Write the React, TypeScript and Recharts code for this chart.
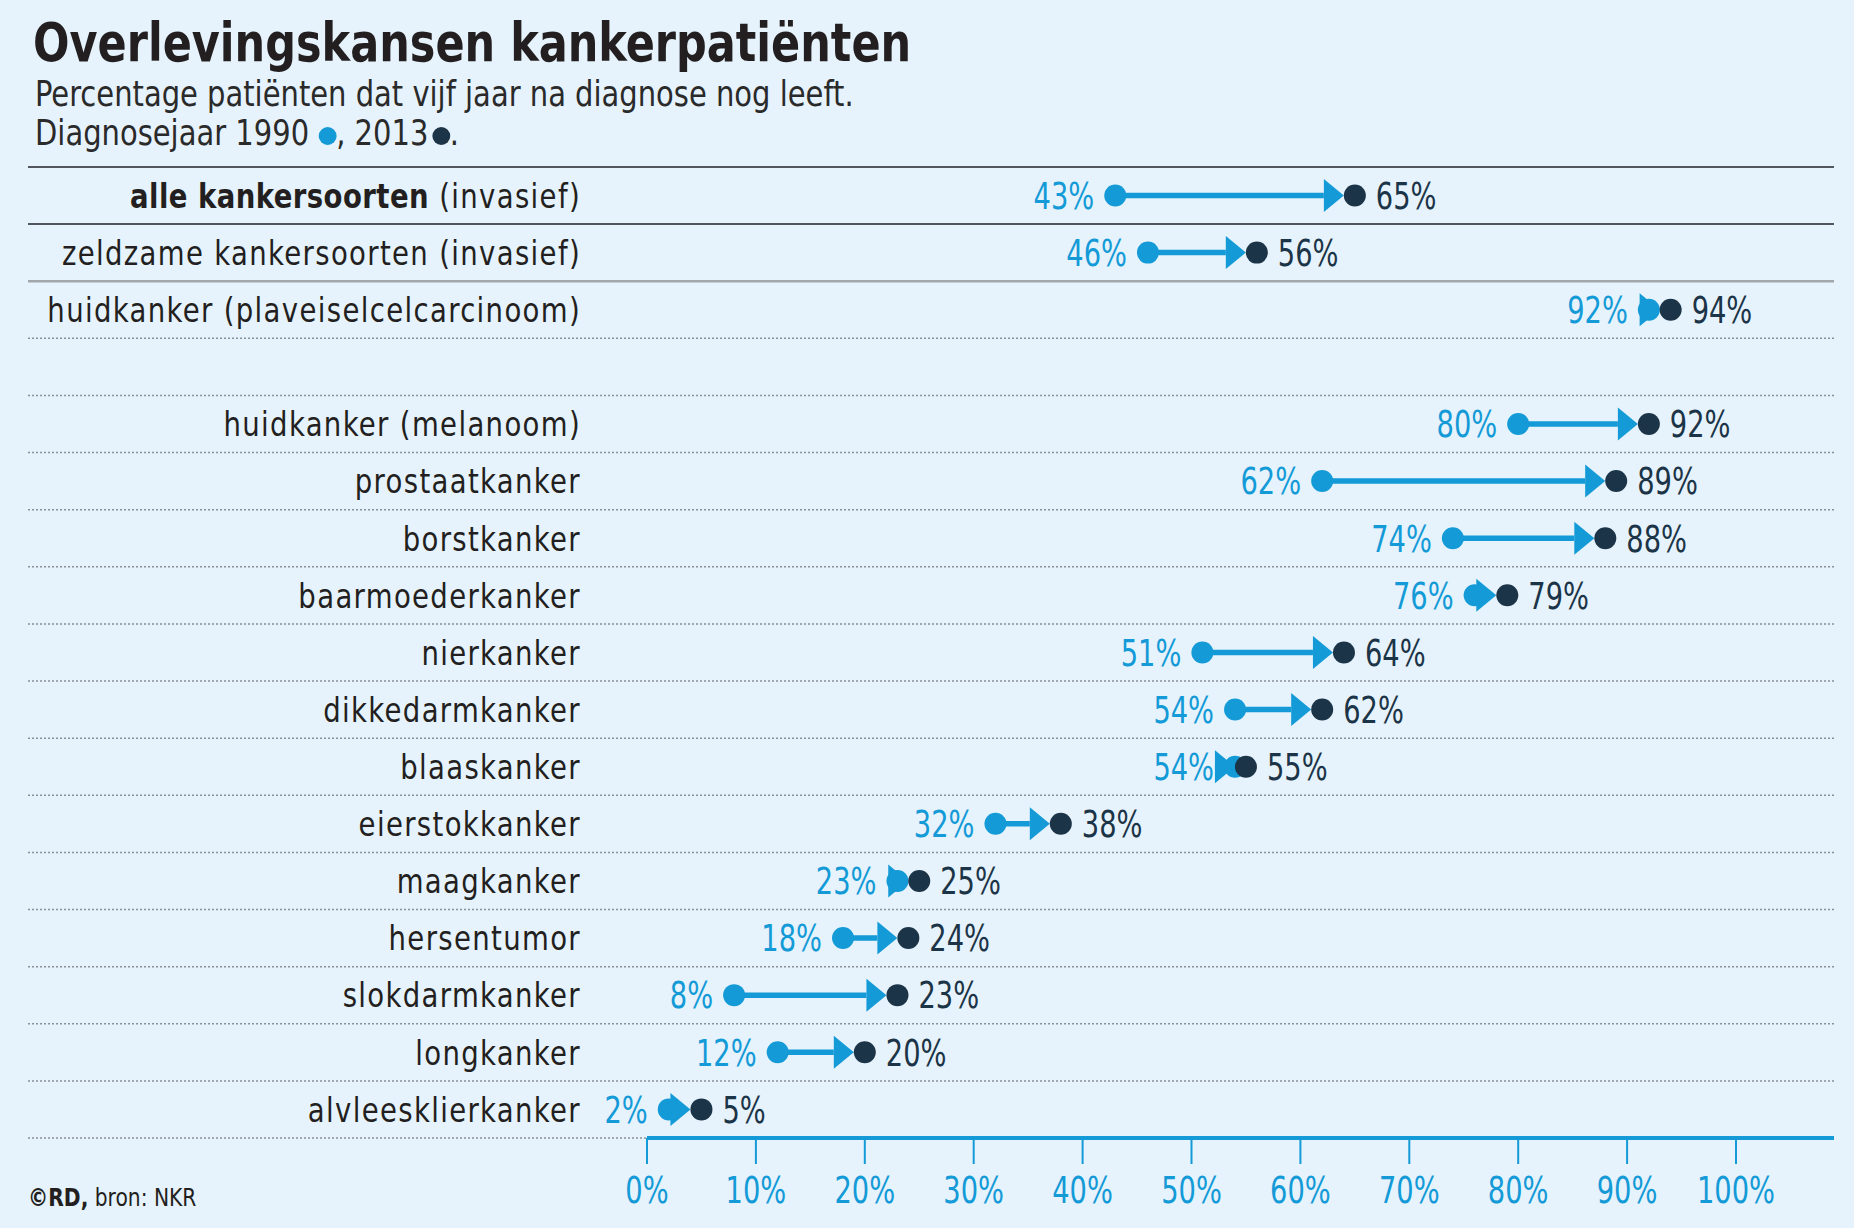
import React from 'react';
import { ComposedChart, Bar, XAxis, YAxis, ReferenceLine } from 'recharts';

// ---------- data ----------
const categories: string[] = [
  'alle kankersoorten (invasief)',
  'zeldzame kankersoorten (invasief)',
  'huidkanker (plaveiselcelcarcinoom)',
  ' ',
  'huidkanker (melanoom)',
  'prostaatkanker',
  'borstkanker',
  'baarmoederkanker',
  'nierkanker',
  'dikkedarmkanker',
  'blaaskanker',
  'eierstokkanker',
  'maagkanker',
  'hersentumor',
  'slokdarmkanker',
  'longkanker',
  'alvleesklierkanker',
];
const survival1990: (number | null)[] = [43, 46, 92, null, 80, 62, 74, 76, 51, 54, 54, 32, 23, 18, 8, 12, 2];
const survival2013: (number | null)[] = [65, 56, 94, null, 92, 89, 88, 79, 64, 62, 55, 38, 25, 24, 23, 20, 5];
const xTicks: number[] = [0, 10, 20, 30, 40, 50, 60, 70, 80, 90, 100];
const boldPrefix = 'alle kankersoorten';
const titleText = 'Overlevingskansen kankerpatiënten';
const subtitleLine1 = 'Percentage patiënten dat vijf jaar na diagnose nog leeft.';
const subtitleLine2 = 'Diagnosejaar';
const years: string[] = ['1990', '2013'];
const sourceBold = '©RD,';
const sourceRest = ' bron: NKR';

// ---------- style ----------
const W = 1854;
const H = 1228;
const BLUE = '#139ad7';
const DARK = '#1c3447';
const INK = '#231f20';
const BG = '#e6f3fc';
const NARROW = "'Liberation Sans Narrow', 'DejaVu Sans Condensed', 'Liberation Sans', sans-serif";
const LEFT = 28;
const R = 11;
const ARROW_LEN = 20;
const ARROW_HALF = 16.5;
const LABEL_GAP = 10;
const NUM_SX = 0.82;
const CAT_SX = 0.9;

const data = categories.map((name, i) => ({
  name,
  v1990: survival1990[i],
  v2013: survival2013[i],
  range: survival1990[i] == null ? null : [survival1990[i], survival2013[i]],
}));

const SText = (p: any) => {
  const { x, y, sx, anchor, children, ...rest } = p;
  return (
    <text transform={`translate(${x},${y}) scale(${sx},1)`} x={0} y={0} textAnchor={anchor} {...rest}>
      {children}
    </text>
  );
};

const ArrowShape = (props: any) => {
  const { x, y, width, height, payload } = props;
  if (!payload || payload.v1990 == null || payload.v2013 == null) return null;
  const cy = y + height / 2;
  const x1 = x;
  const x2 = x + width;
  const dir = x2 >= x1 ? 1 : -1;
  const tip = x2 - dir * R;
  const base = tip - dir * ARROW_LEN;
  return (
    <g>
      <line x1={x1} y1={cy} x2={base} y2={cy} stroke={BLUE} strokeWidth={5.5} />
      <polygon points={`${tip},${cy} ${base},${cy - ARROW_HALF} ${base},${cy + ARROW_HALF}`} fill={BLUE} />
      <circle cx={x1} cy={cy} r={R} fill={BLUE} />
      <circle cx={x2} cy={cy} r={R} fill={DARK} />
      <SText
        x={x1 - dir * (R + LABEL_GAP)}
        y={cy}
        sx={NUM_SX}
        dy="0.36em"
        anchor={dir > 0 ? 'end' : 'start'}
        fontFamily={NARROW}
        fontSize={37}
        fill={BLUE}
      >
        {payload.v1990}%
      </SText>
      <SText
        x={x2 + dir * (R + LABEL_GAP)}
        y={cy}
        sx={NUM_SX}
        dy="0.36em"
        anchor={dir > 0 ? 'start' : 'end'}
        fontFamily={NARROW}
        fontSize={37}
        fill={DARK}
      >
        {payload.v2013}%
      </SText>
    </g>
  );
};

const CategoryTick = (props: any) => {
  const { x, y, payload } = props;
  const label = String(payload.value);
  const bold = label.startsWith(boldPrefix);
  return (
    <SText x={x} y={y} sx={CAT_SX} dy="0.36em" anchor="end" fontFamily={NARROW} fontSize={34} letterSpacing={1.5} fill={INK}>
      {bold ? (
        <>
          <tspan fontWeight="bold" letterSpacing={0.5}>{boldPrefix}</tspan>
          <tspan>{label.slice(boldPrefix.length)}</tspan>
        </>
      ) : (
        label
      )}
    </SText>
  );
};

const XTick = (props: any) => {
  const { x, y, payload } = props;
  return (
    <SText x={x} y={y} sx={NUM_SX} dy="0.71em" anchor="middle" fontFamily={NARROW} fontSize={37} fill={BLUE}>
      {payload.value}%
    </SText>
  );
};

const makeSeparator = (kind: string, last: boolean) => (props: any) => {
  const yy = props.y1 ?? props.y;
  const xEnd = last ? props.x1 : props.x2;
  if (kind === 'solid') {
    return <line x1={LEFT} y1={yy} x2={xEnd} y2={yy} stroke="#50565c" strokeWidth={2} />;
  }
  if (kind === 'light') {
    return <line x1={LEFT} y1={yy} x2={xEnd} y2={yy} stroke="#a2a7ac" strokeWidth={2.5} />;
  }
  return <line x1={LEFT} y1={yy} x2={xEnd} y2={yy} stroke="#8b9096" strokeWidth={1.5} strokeDasharray="2 2" />;
};

const sepKind = (i: number) => (i < 2 ? 'solid' : i === 2 ? 'light' : 'dotted');

export default function App() {
  return (
    <div style={{ position: 'absolute', left: 0, top: 0, width: W, height: H, background: BG, overflow: 'hidden' }}>
      <div
        style={{
          position: 'absolute',
          left: 33,
          top: 16,
          fontFamily: NARROW,
          fontWeight: 'bold',
          fontSize: 54,
          lineHeight: '54px',
          color: INK,
          whiteSpace: 'nowrap',
          transform: 'scaleX(0.885)',
          transformOrigin: 'left top',
        }}
      >
        {titleText}
      </div>
      <div
        style={{
          position: 'absolute',
          left: 35,
          top: 74,
          fontFamily: NARROW,
          fontSize: 36,
          lineHeight: '39px',
          color: '#2a2a2a',
          whiteSpace: 'nowrap',
          transform: 'scaleX(0.895)',
          transformOrigin: 'left top',
        }}
      >
        <div>{subtitleLine1}</div>
        <div>
          {subtitleLine2} {years[0]}{' '}
          <span style={{ display: 'inline-block', width: 20, height: 18, borderRadius: '50%', background: BLUE }} />
          , {years[1]}
          <span style={{ display: 'inline-block', width: 20, height: 18, borderRadius: '50%', background: DARK, marginLeft: 4 }} />.
        </div>
      </div>
      <div
        style={{
          position: 'absolute',
          left: 28,
          top: 1184,
          fontFamily: NARROW,
          fontSize: 25,
          lineHeight: '28px',
          color: INK,
          whiteSpace: 'nowrap',
          transform: 'scaleX(0.9)',
          transformOrigin: 'left top',
        }}
      >
        <b>{sourceBold}</b>
        {sourceRest}
      </div>
      <div style={{ position: 'absolute', left: 0, top: 0 }}>
        <ComposedChart
          width={W}
          height={H}
          data={data}
          layout="vertical"
          margin={{ top: 167, right: 20, bottom: 0, left: LEFT }}
          barCategoryGap={0}
        >
          <XAxis
            type="number"
            domain={[0, 109]}
            ticks={xTicks}
            interval={0}
            height={90}
            axisLine={{ stroke: BLUE, strokeWidth: 4 }}
            tickLine={{ stroke: BLUE, strokeWidth: 2 }}
            tickSize={26}
            tickMargin={13}
            tick={<XTick />}
          />
          <YAxis
            type="category"
            dataKey="name"
            width={619}
            interval={0}
            axisLine={false}
            tickLine={false}
            tickSize={0}
            tickMargin={66}
            tick={<CategoryTick />}
          />
          {categories.map((c, i) => (
            <ReferenceLine
              key={'sep' + i}
              y={c}
              position="start"
              ifOverflow="visible"
              shape={makeSeparator(sepKind(i), false)}
            />
          ))}
          <ReferenceLine
            key="sep-last"
            y={categories[categories.length - 1]}
            position="end"
            ifOverflow="visible"
            shape={makeSeparator('dotted', true)}
          />
          <Bar dataKey="range" isAnimationActive={false} shape={ArrowShape} />
        </ComposedChart>
      </div>
    </div>
  );
}
